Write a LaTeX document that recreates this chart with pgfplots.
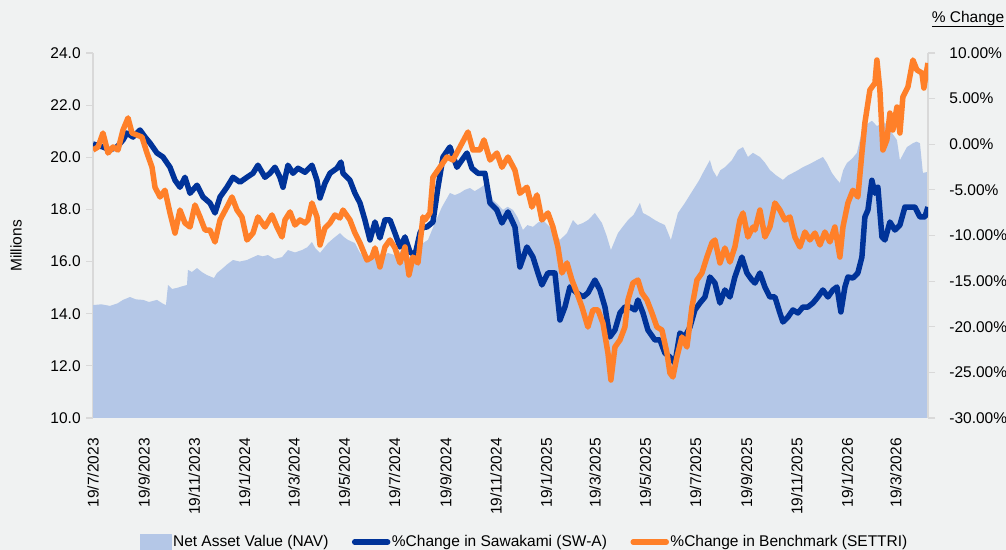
\documentclass[border=0pt]{standalone}
\usepackage{pgfplots}
\pgfplotsset{compat=1.18}
\usepackage{fontspec}
\setmainfont{Liberation Sans}
\definecolor{bgc}{HTML}{F0F2F2}
\definecolor{navc}{HTML}{B4C7E7}
\definecolor{swc}{HTML}{003399}
\definecolor{setc}{HTML}{FF8029}
\definecolor{axc}{HTML}{D9D9D9}
\begin{document}
\fontsize{15.5bp}{18bp}\selectfont
\begin{tikzpicture}[x=1bp,y=1bp]
\useasboundingbox (0,0) rectangle (1006,550);
\fill[bgc] (0,0) rectangle (1006,550);
% ---------- left axis: NAV ----------
\begin{axis}[
  at={(93bp,132bp)}, anchor=south west,
  scale only axis, width=835bp, height=365bp,
  xmin=0, xmax=1013, ymin=10, ymax=24,
  axis y line*=left, axis x line*=bottom,
  x axis line style={draw=none},
  y axis line style={-, draw=axc, line width=1.2bp},
  ytick style={draw=axc, line width=1.2bp},
  xtick style={draw=none},
  tick align=outside, major tick length=7bp,
  ytick={10,12,...,24},
  yticklabel={\pgfmathprintnumber[fixed,fixed zerofill,precision=1,assume math mode=true]{\tick}},
  xtick={0,62,123,184,244,305,366,428,489,550,609,670,731,793,854,915,974},
  xticklabels={19/7/2023,19/9/2023,19/11/2023,19/1/2024,19/3/2024,19/5/2024,19/7/2024,19/9/2024,19/11/2024,19/1/2025,19/3/2025,19/5/2025,19/7/2025,19/9/2025,19/11/2025,19/1/2026,19/3/2026},
  xticklabel shift=8bp,
  xticklabel style={rotate=90, anchor=east, font=\fontsize{15.5bp}{18bp}\selectfont},
  yticklabel style={font=\fontsize{15.5bp}{18bp}\selectfont, text=black},
]
\addplot[fill=navc, draw=none] coordinates {
(0,14.33) (10,14.36) (20.6,14.30) (30,14.40) (36.4,14.53) (44.9,14.64) (52,14.55) (60.7,14.53) (68,14.45) (77.6,14.53) (84,14.40) (88.5,14.33)
(91.0,15.10) (96,14.95) (101.9,14.99) (108,15.05) (114.0,15.10) (115.2,15.68) (120,15.60) (126.2,15.75) (132,15.60) (138.3,15.48) (146.8,15.37)
(150.4,15.56) (157.7,15.75) (163,15.90) (169.8,16.06) (178,16.00) (186.8,16.06) (193,16.15) (200.1,16.25) (206,16.20) (212.3,16.25) (220,16.10)
(229.3,16.17) (236.5,16.44) (245,16.35) (253.5,16.44) (260,16.55) (265.6,16.75) (270,16.50) (275.4,16.33) (285.1,16.71) (292,16.90) (299.6,17.09)
(304,16.95) (309.3,16.83) (317.8,16.71) (323.9,16.33) (333.6,16.06) (340,16.15) (345.7,16.06) (352,16.20) (357.8,16.33) (366,16.25) (374.8,16.44)
(381,16.30) (387.0,16.06) (394.2,16.33) (400.3,16.71) (406.4,16.83) (414.8,17.48) (423.3,18.09) (433.0,18.63) (439,18.55) (445.2,18.63) (451,18.75)
(457.3,18.82) (463,18.70) (469.4,18.82) (477.9,19.01) (485.2,18.36) (491,18.20) (497.3,17.98) (503,18.10) (509.5,17.98) (515,17.70) (521.6,17.21)
(527,17.40) (533.7,17.33) (540,17.50) (545.9,17.59) (552,17.40) (558.0,17.21) (566.5,16.83) (575.0,17.09) (582.2,17.59) (588,17.40) (594.4,17.48)
(600.4,17.59) (608.9,17.86) (617.4,17.48) (623,17.00) (628.3,16.44) (636.8,17.09) (643,17.35) (649.0,17.59) (656,17.80) (663.5,18.25) (667.2,17.86)
(674,17.75) (681.7,17.59) (687,17.50) (693.8,17.40) (701.1,16.83) (709.6,17.86) (718.1,18.25) (724,18.55) (730.2,18.86) (735,19.10) (739.9,19.40)
(748.4,19.89) (752,19.50) (756.9,19.24) (761,19.50) (766.6,19.62) (775.1,19.89) (782.4,20.28) (788.5,20.39) (794.5,20.01) (800.6,20.17) (809.1,20.01)
(815,19.80) (821.2,19.51) (829,19.30) (837.0,19.13) (843,19.30) (849.1,19.40) (855,19.50) (861.2,19.62) (870,19.75) (878.2,19.89) (885.5,20.01)
(890,19.80) (896.4,19.40) (901,19.20) (906.1,19.01) (910,19.50) (914.6,19.78) (921,19.95) (926.7,20.17) (932.8,21.00) (938,21.25) (944.9,21.40)
(951.0,21.20) (958.3,21.30) (963,21.30) (970,20.90) (975.3,20.66) (978.9,19.89) (987.4,20.39) (994.7,20.54) (999,20.60) (1003.2,20.54) (1006.8,19.40) (1013,19.44)
} \closedcycle;
\end{axis}
% ---------- right axis: % change ----------
\begin{axis}[
  at={(93bp,132bp)}, anchor=south west,
  scale only axis, width=835bp, height=365bp,
  xmin=0, xmax=1013, ymin=-30, ymax=10,
  axis y line*=right, axis x line=none,
  y axis line style={-, draw=axc, line width=1.2bp},
  ytick style={draw=axc, line width=1.2bp},
  tick align=outside, major tick length=7bp,
  ytick={-30,-25,...,10},
  yticklabel={\pgfmathprintnumber[fixed,fixed zerofill,precision=2,assume math mode=true]{\tick}\%},
  yticklabel style={font=\fontsize{15.5bp}{18bp}\selectfont, text=black, xshift=9bp},
  legend columns=3,
  legend style={at={(0.5168,-0.3397)}, anchor=center, draw=none, fill=none,
    font=\fontsize{15.5bp}{18bp}\selectfont,
    nodes={inner sep=1.5bp},
    /tikz/every even column/.append style={column sep=22bp}},
  legend cell align=left,
  line join=round,
]
\addlegendimage{legend image code/.code={\fill[navc] (0bp,-8bp) rectangle (31bp,8bp);}}
\addlegendentry{Net Asset Value (NAV)}
\addplot[swc, line width=5.5bp, legend image code/.code={\draw[swc,line width=5.5bp,line cap=round] (0bp,0bp)--(33bp,0bp);}] coordinates {
(0,0.03) (12.1,-0.30) (20.6,-0.63) (29.1,-0.30) (36.4,0.47) (41.2,1.23) (48.5,0.79) (57.0,1.56) (63.1,0.79) (69.1,0.14) (77.6,-0.96)
(84.9,-1.40) (93.4,-2.52) (99.5,-3.95) (105.5,-4.71) (111.6,-3.62) (117.7,-5.37) (126.2,-4.49) (133.5,-5.78) (141.9,-6.44) (148.0,-7.53)
(154.1,-5.78) (162.5,-4.71) (169.8,-3.62) (178.3,-4.16) (186.8,-3.62) (194.1,-3.18) (200.1,-2.30) (208.6,-3.62) (214.7,-3.18) (220.8,-2.52)
(226.8,-3.62) (230.5,-4.71) (236.5,-2.30) (242.6,-3.18) (248.7,-2.63) (257.2,-3.07) (265.6,-2.30) (271.7,-3.95) (275.4,-5.89) (281.4,-4.27)
(287.5,-3.18) (296.0,-2.63) (300.8,-1.95) (303.3,-3.18) (311.7,-3.95) (317.8,-5.37) (323.9,-6.44) (329.9,-8.30) (336.0,-10.49) (342.1,-8.52)
(348.1,-10.27) (354.2,-8.30) (360.3,-8.30) (366.3,-9.73) (372.4,-11.26) (378.5,-10.16) (384.5,-11.81) (390.6,-12.14) (396.7,-9.73) (400.3,-9.07)
(405.1,-9.07) (412.4,-8.52) (418.5,-4.71) (424.6,-1.40) (433.0,-0.30) (441.5,-2.52) (447.6,-1.73) (453.7,-0.96) (459.7,-2.63) (467.0,-3.18)
(475.5,-3.18) (481.6,-6.44) (490.0,-7.21) (496.1,-8.63) (503.4,-7.42) (511.9,-9.07) (517.9,-13.45) (526.4,-11.26) (533.7,-12.36) (539.8,-14.11)
(544.6,-15.42) (551.9,-14.11) (560.4,-14.11) (566.5,-19.26) (572.5,-17.84) (578.6,-15.64) (587.1,-16.30) (594.4,-16.74) (600.4,-16.30)
(608.9,-14.88) (615.0,-15.97) (621.1,-17.84) (627.1,-21.12) (633.2,-20.36) (639.3,-18.49) (645.3,-17.84) (651.4,-17.84) (657.5,-18.16)
(661.1,-17.07) (667.2,-18.49) (673.2,-20.36) (681.7,-21.45) (687.8,-21.45) (693.8,-22.88) (699.9,-23.32) (706.0,-23.98) (712.0,-20.69)
(718.1,-21.12) (724.2,-20.03) (730.2,-18.16) (736.3,-17.40) (742.4,-16.74) (748.4,-14.55) (754.5,-15.21) (760.6,-17.40) (766.6,-15.97)
(772.7,-16.74) (778.7,-14.55) (787.2,-12.36) (793.3,-14.11) (799.4,-14.88) (803.0,-15.21) (809.1,-14.11) (815.1,-15.64) (821.2,-16.74)
(827.3,-16.74) (833.3,-18.49) (837.0,-19.48) (843.1,-18.93) (849.1,-18.16) (855.2,-18.49) (861.2,-17.84) (867.3,-17.84) (873.4,-17.40)
(879.4,-16.74) (885.5,-15.97) (891.6,-16.74) (897.6,-15.97) (902.5,-15.64) (907.3,-18.38) (912.2,-15.64) (915.8,-14.55) (921.9,-14.66)
(927.9,-14.11) (932.8,-12.36) (936.4,-7.97) (940.1,-7.21) (944.9,-3.95) (948.6,-5.37) (952.2,-4.71) (957.1,-10.16) (960.7,-10.49)
(966.8,-8.52) (972.8,-9.40) (978.9,-8.85) (985.0,-6.88) (991.0,-6.88) (997.1,-6.88) (1003.2,-7.97) (1009.2,-7.97) (1012.9,-6.88)
};
\addlegendentry{\%Change in Sawakami (SW-A)}
\addplot[setc, line width=5.5bp, legend image code/.code={\draw[setc,line width=5.5bp,line cap=round] (0bp,0bp)--(33bp,0bp);}] coordinates {
(0,-0.63) (6.1,-0.30) (12.1,1.23) (18.2,-0.96) (24.3,-0.30) (30.3,-0.63) (36.4,1.56) (42.5,2.88) (47.3,1.23) (53.4,1.01) (59.4,0.79)
(65.5,-0.96) (71.6,-2.52) (75.2,-4.71) (81.3,-5.78) (87.3,-5.04) (93.4,-7.53) (99.5,-9.73) (105.5,-7.21) (111.6,-8.63) (117.7,-9.07)
(123.7,-6.66) (129.8,-7.97) (135.9,-9.40) (141.9,-9.40) (148.0,-10.71) (154.1,-8.30) (162.5,-6.88) (168.6,-5.78) (174.7,-7.21) (180.7,-7.97)
(186.8,-10.49) (194.1,-9.73) (200.1,-7.97) (202.6,-8.30) (208.6,-9.07) (217.1,-7.75) (223.2,-9.07) (229.3,-10.16) (232.9,-8.30) (239.0,-7.42)
(245.0,-8.85) (251.1,-8.30) (257.2,-8.63) (260.8,-8.30) (265.6,-6.44) (271.7,-7.97) (275.4,-11.04) (281.4,-9.18) (287.5,-8.63) (293.6,-7.75)
(299.6,-8.08) (303.3,-7.21) (311.7,-8.30) (317.8,-9.73) (323.9,-10.82) (332.4,-12.69) (338.4,-12.36) (342.1,-11.37) (348.1,-13.45)
(354.2,-11.26) (360.3,-10.49) (366.3,-11.37) (372.4,-13.01) (378.5,-11.26) (383.3,-14.33) (388.2,-12.36) (394.2,-13.01) (400.3,-7.97)
(402.7,-8.30) (408.8,-7.53) (412.4,-3.62) (420.9,-2.52) (429.4,-1.40) (436.7,-1.73) (445.2,-0.30) (454.9,1.34) (460.9,-0.63) (469.4,-0.63)
(474.3,0.47) (481.6,-1.73) (490.0,-0.96) (496.1,-2.52) (503.4,-1.40) (511.9,-2.85) (517.9,-5.37) (526.4,-4.71) (532.5,-6.88) (538.6,-5.56)
(544.6,-8.30) (551.9,-7.53) (558.0,-9.07) (564.0,-11.26) (568.9,-14.11) (575.0,-13.01) (581.0,-14.88) (587.1,-16.30) (593.2,-17.84)
(600.4,-20.03) (606.5,-18.16) (612.6,-18.16) (618.6,-19.59) (624.7,-22.88) (628.3,-25.84) (633.2,-22.22) (639.3,-21.45) (645.3,-20.03)
(649.0,-17.07) (655.0,-15.21) (661.1,-14.88) (665.9,-16.30) (672.0,-17.07) (678.1,-18.49) (684.1,-20.03) (690.2,-20.36) (696.3,-22.88)
(699.9,-25.07) (703.5,-25.51) (708.4,-23.32) (714.5,-21.12) (720.5,-22.22) (726.6,-17.84) (732.7,-14.88) (738.7,-14.11) (744.8,-12.36)
(750.8,-10.82) (754.5,-10.49) (760.6,-13.01) (766.6,-11.37) (772.7,-12.91) (778.7,-11.26) (784.8,-8.30) (788.5,-7.53) (794.5,-10.16)
(800.6,-9.07) (803.0,-9.40) (809.1,-7.21) (815.1,-10.16) (821.2,-9.07) (827.3,-6.44) (833.3,-7.21) (839.4,-8.30) (845.5,-7.97) (851.5,-10.16)
(857.6,-11.26) (863.7,-9.62) (869.7,-10.49) (875.8,-9.73) (881.9,-11.04) (887.9,-9.62) (894.0,-10.71) (900.0,-9.07) (906.1,-12.36)
(909.8,-9.07) (915.8,-6.44) (921.9,-5.04) (927.9,-5.78) (932.8,-0.96) (936.4,2.33) (942.5,5.95) (948.6,6.71) (951.0,9.23) (954.6,5.95)
(958.3,-0.63) (963.1,0.47) (966.8,3.42) (970.4,1.56) (975.3,4.08) (978.9,1.23) (982.5,5.18) (988.6,6.27) (994.7,9.23) (999.5,8.14)
(1005.6,7.81) (1008.0,6.16) (1012.9,8.90)
};
\addlegendentry{\%Change in Benchmark (SETTRI)}
\end{axis}
\node[rotate=90] at (16,304) {Millions};
\node at (968,531) {\underline{\% Change}};
\end{tikzpicture}
\end{document}
